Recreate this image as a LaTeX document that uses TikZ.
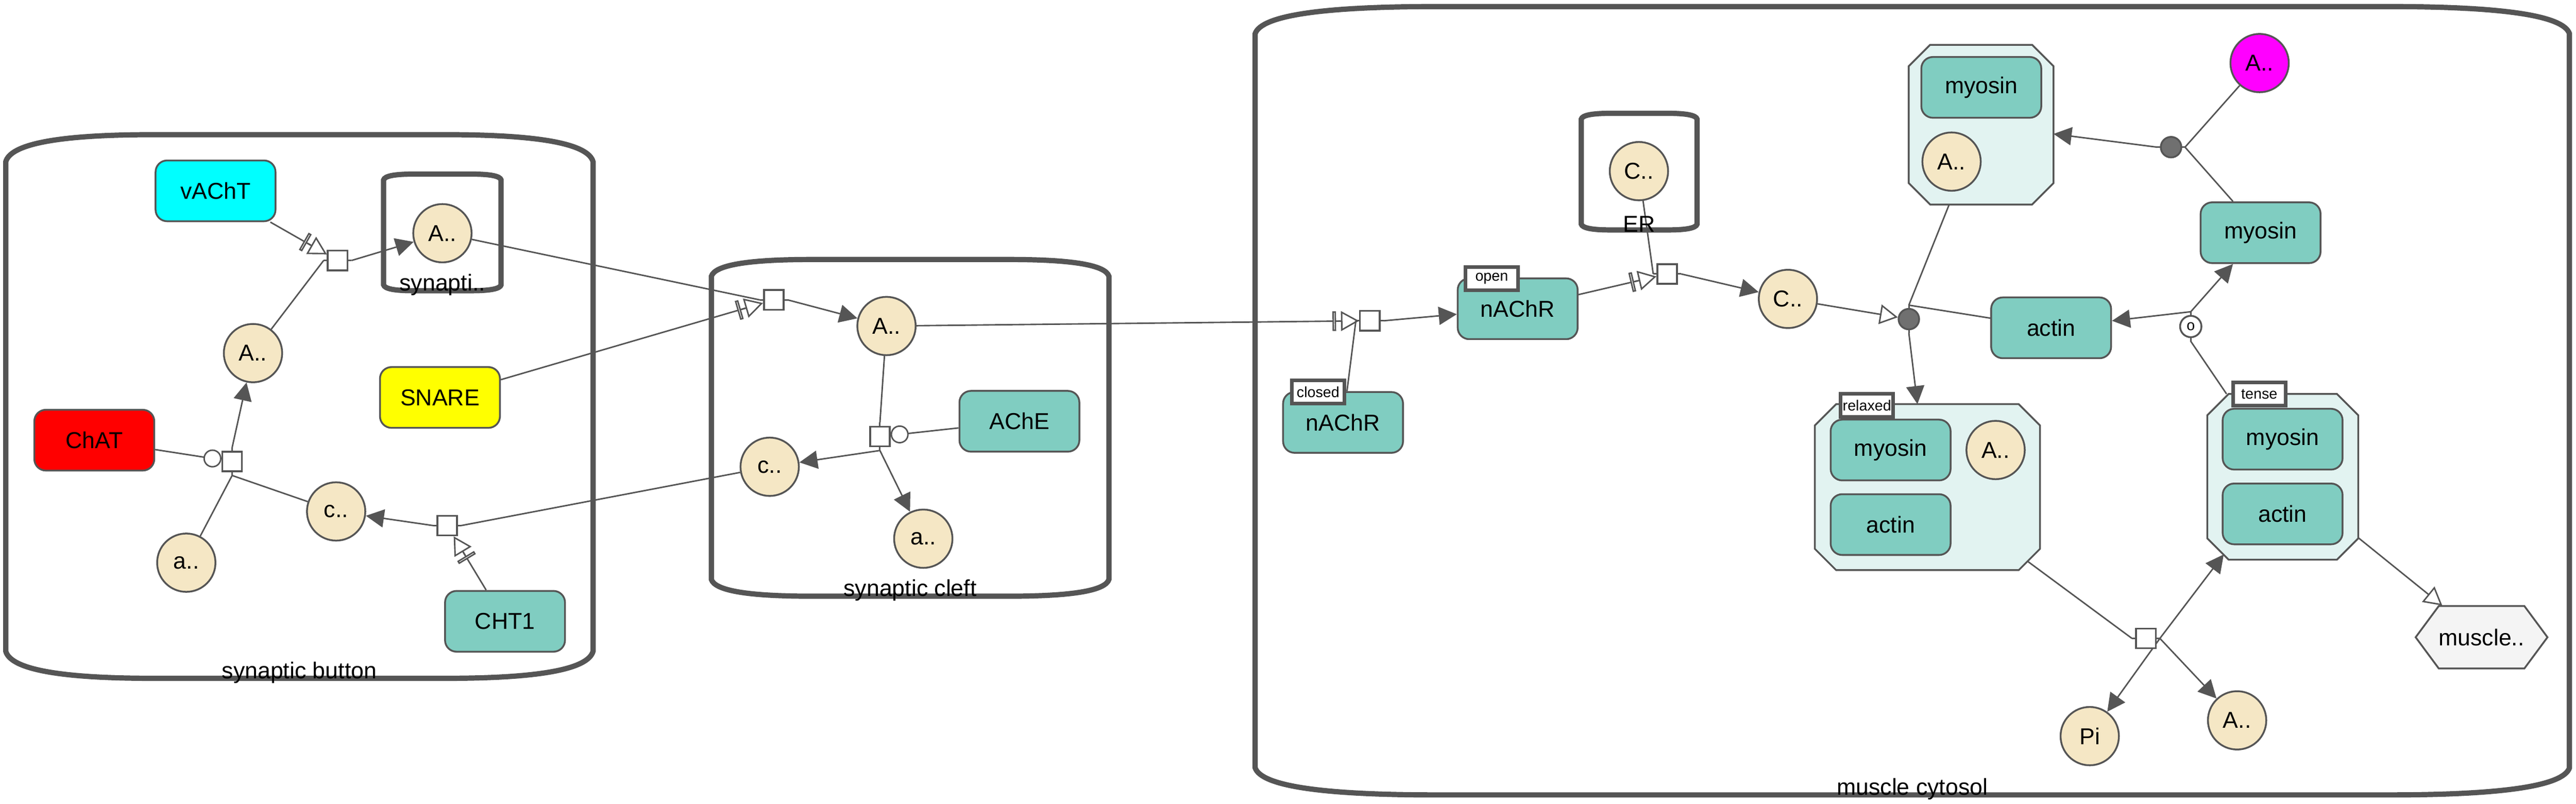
\documentclass[tikz,border=0pt]{standalone}
\usepackage{fontspec}
\setmainfont{Liberation Sans}
\usetikzlibrary{arrows.meta,shapes.symbols}

\definecolor{edgegray}{HTML}{555555}
\definecolor{chemfill}{HTML}{F5E7C5}
\definecolor{macrofill}{HTML}{80CDC1}
\definecolor{cplxfill}{HTML}{E2F3F1}
\definecolor{phenofill}{HTML}{F4F4F4}
\definecolor{assocfill}{HTML}{707070}
\definecolor{vachtfill}{HTML}{00FFFF}
\definecolor{chatfill}{HTML}{FF0000}
\definecolor{snarefill}{HTML}{FFFF00}
\definecolor{atpfill}{HTML}{FF00FF}

\pgfdeclarelayer{back}
\pgfdeclarelayer{wires}
\pgfsetlayers{back,wires,main}

\tikzset{
  macromol/.style={draw=edgegray,line width=1.1pt,rounded corners=7pt,minimum width=73pt,
    minimum height=37pt,inner sep=0pt,fill=macrofill},
  simplechem/.style={draw=edgegray,line width=1.1pt,circle,minimum size=35.5pt,inner sep=0pt,fill=chemfill},
  cplx/.style={rectangle,inner sep=0pt},
  cplxline/.style={fill=cplxfill,draw=edgegray,line width=1.1pt},
  procbox/.style={draw=edgegray,line width=1.1pt,rectangle,minimum size=12pt,inner sep=0pt,fill=white},
  assoc/.style={draw=edgegray,line width=1.1pt,circle,minimum size=12.5pt,inner sep=0pt,fill=assocfill},
  dissoc/.style={draw=edgegray,line width=1.1pt,circle,minimum size=13pt,inner sep=0pt,fill=white,
    font=\fontsize{9}{9}\selectfont},
  statebox/.style={draw=edgegray,line width=2.2pt,fill=white,minimum width=32pt,minimum height=14pt,
    inner sep=0.5pt,font=\fontsize{9}{9}\selectfont},
  pheno/.style={draw=edgegray,line width=1.1pt,signal,signal to=west and east,signal pointer angle=107,
    minimum width=75pt,minimum height=38pt,inner sep=0pt,fill=phenofill},
  compart/.style={draw=edgegray,line width=3.2pt},
  wire/.style={draw=edgegray,line width=0.9pt},
  consume/.style={wire},
  produce/.style={wire,-{Triangle[length=11pt,width=11pt]}},
  stimul/.style={wire,-{Triangle[open,fill=white,length=11pt,width=12pt]}},
  trigger/.style={wire,-{Rectangle[open,fill=white,length=2.2pt,width=12pt]
    Rectangle[length=3pt,width=0.9pt] Triangle[open,fill=white,length=11pt,width=12pt]}},
  catal/.style={wire,-{Circle[open,fill=white,length=11pt]}}
}

% process nodes with ports: -a left/top, -b right/bottom
\newcommand{\proch}[4][procbox]{%
  \node[#1] (#2) at (#3,#4) {};
  \coordinate (#2-a) at (#3-8.5,#4);
  \coordinate (#2-b) at (#3+8.5,#4);
  \begin{pgfonlayer}{wires}\draw[wire] (#2-a) -- (#2-b);\end{pgfonlayer}}
\newcommand{\procv}[4][procbox]{%
  \node[#1] (#2) at (#3,#4) {};
  \coordinate (#2-a) at (#3,#4-8.5);
  \coordinate (#2-b) at (#3,#4+8.5);
  \begin{pgfonlayer}{wires}\draw[wire] (#2-a) -- (#2-b);\end{pgfonlayer}}

% complex: name, x, y, width, height (corners cut by 13pt)
\newcommand{\cplxnode}[5]{%
  \node[cplx,minimum width=#4pt,minimum height=#5pt] (#1) at (#2,#3) {};
  \path[cplxline] ([xshift=13pt]#1.north west) -- ([xshift=-13pt]#1.north east)
    -- ([yshift=-13pt]#1.north east) -- ([yshift=13pt]#1.south east)
    -- ([xshift=-13pt]#1.south east) -- ([xshift=13pt]#1.south west)
    -- ([yshift=13pt]#1.south west) -- ([yshift=-13pt]#1.north west) -- cycle;}

% compartment: x1, y1, x2, y2, corner width, corner height
\newcommand{\barrelbox}[6]{%
  \draw[compart] (#1,#2+#6) -- (#1,#4-#6)
    .. controls (#1+0.0333*#5,#4-#6/3) and (#1+0.3667*#5,#4) .. (#1+#5,#4)
    -- (#3-#5,#4)
    .. controls (#3-0.3667*#5,#4) and (#3-0.0333*#5,#4-#6/3) .. (#3,#4-#6)
    -- (#3,#2+#6)
    .. controls (#3-0.0333*#5,#2+#6/3) and (#3-0.3667*#5,#2) .. (#3-#5,#2)
    -- (#1+#5,#2)
    .. controls (#1+0.3667*#5,#2) and (#1+0.0333*#5,#2+#6/3) .. cycle;}

\begin{document}
\begin{tikzpicture}[x=1pt,y=-1pt,font=\fontsize{14}{16}\selectfont]
  \useasboundingbox (0,0) rectangle (1568,489.5);

  \begin{pgfonlayer}{back}
    \fill[white] (0,0) rectangle (1568,489.5);
    \barrelbox{3.5}{82}{361}{413}{89.4}{16.5}
    \barrelbox{233.5}{106}{305}{177}{17.9}{3.55}
    \barrelbox{433}{158}{675}{363}{60.5}{10.25}
    \barrelbox{764}{4}{1564}{484}{110}{16.5}
    \barrelbox{962.5}{69}{1033}{140}{17.6}{3.55}
  \end{pgfonlayer}

  \node at (182.2,409.5) {synaptic button};
  \node at (269.3,173.5) {synapti..};
  \node at (554,359.5) {synaptic cleft};
  \node at (1164,480.5) {muscle cytosol};
  \node at (997.7,136.5) {ER};

  % synaptic button
  \node[macromol,fill=vachtfill]  (vAChT) at (131.2,116.2) {vAChT};
  \node[simplechem]               (Avs)   at (269.3,142)   {A..};
  \node[simplechem]               (Abt)   at (154,215)     {A..};
  \node[macromol,fill=chatfill]   (ChAT)  at (57.4,268)    {ChAT};
  \node[macromol,fill=snarefill]  (SNARE) at (267.8,242)   {SNARE};
  \node[simplechem]               (abt)   at (113.4,342.6) {a..};
  \node[simplechem]               (cbt)   at (204.6,311.4) {c..};
  \node[macromol]                 (CHT1)  at (307.4,378.3) {CHT1};
  \proch{p1}{205.5}{158.6}
  \procv{p2}{141.3}{281}
  \proch{p3}{272.2}{320}

  % synaptic cleft
  \node[simplechem] (Acl)  at (539.6,198.5) {A..};
  \node[simplechem] (ccl)  at (468.5,284.2) {c..};
  \node[simplechem] (acl)  at (562,328)     {a..};
  \node[macromol]   (AChE) at (620.5,256.5) {AChE};
  \proch{p4}{471}{182.6}
  \procv{p5}{535.6}{265.8}

  % muscle cytosol
  \node[macromol] (nAChRc) at (817.5,257.2) {nAChR};
  \node[macromol] (nAChRo) at (923.8,188)   {nAChR};
  \node[statebox] at (802.3,238.7) {closed};
  \node[statebox] at (908,169.7)   {open};
  \proch{p6}{833.8}{195.3}
  \node[simplechem] (Cer) at (997.6,104.2) {C..};
  \proch{p7}{1014.8}{166.8}
  \node[simplechem] (Ccy) at (1088.3,182) {C..};
  \procv[assoc]{as1}{1161.9}{194.3}
  \node[macromol] (actin) at (1248.5,199.6) {actin};

  \cplxnode{cx1}{1205.9}{75.9}{87.7}{96.8}
  \node[macromol]   (myoA) at (1206,53.2)   {myosin};
  \node[simplechem] (Acx1) at (1187.9,98.4) {A..};

  \node[simplechem,fill=atpfill] (Amg) at (1375.4,38.4) {A..};
  \proch[assoc]{as2}{1321.5}{89.6}
  \node[macromol] (myosin) at (1376,141.7) {myosin};

  \node[dissoc] (ds1) at (1333.5,198.8) {o};
  \coordinate (ds1-a) at (1333.5,189.8);
  \coordinate (ds1-b) at (1333.5,207.8);

  \cplxnode{cx2}{1173.2}{296.6}{136.7}{100.7}
  \node[macromol]   (myoB) at (1150.8,274)   {myosin};
  \node[simplechem] (Acx2) at (1214.7,274)   {A..};
  \node[macromol]   (actB) at (1150.8,319.4) {actin};
  \node[statebox] at (1136.4,246.8) {relaxed};

  \cplxnode{cx3}{1389.5}{290.3}{91.5}{100.5}
  \node[macromol] (myoC) at (1389.4,267.4) {myosin};
  \node[macromol] (actC) at (1389.4,312.9) {actin};
  \node[statebox] at (1375.2,240) {tense};

  \proch{p8}{1306.2}{388.7}
  \node[simplechem] (Pi)  at (1272,448.2)   {Pi};
  \node[simplechem] (Aad) at (1361.7,438.6) {A..};
  \node[pheno] (twitch) at (1510.5,388) {muscle..};

  \begin{pgfonlayer}{wires}
    \draw[wire] (ds1-a) -- (ds1-b);
    \path (Abt)    edge[consume] (p1-a)
          (p1-b)   edge[produce] (Avs)
          (vAChT)  edge[trigger] (p1)
          (abt)    edge[consume] (p2-b)
          (cbt)    edge[consume] (p2-b)
          (p2-a)   edge[produce] (Abt)
          (ChAT)   edge[catal]   (p2)
          (ccl)    edge[consume] (p3-b)
          (p3-a)   edge[produce] (cbt)
          (CHT1)   edge[trigger] (p3)
          (Avs)    edge[consume] (p4-a)
          (p4-b)   edge[produce] (Acl)
          (SNARE)  edge[trigger] (p4)
          (Acl)    edge[consume] (p5-a)
          (p5-b)   edge[produce] (ccl)
                   edge[produce] (acl)
          (AChE)   edge[catal]   (p5)
          (Acl)    edge[trigger] (p6)
          (nAChRc) edge[consume] (p6-a)
          (p6-b)   edge[produce] (nAChRo)
          (nAChRo) edge[trigger] (p7)
          (Cer)    edge[consume] (p7-a)
          (p7-b)   edge[produce] (Ccy)
          (Ccy)    edge[stimul]  (as1)
          (cx1)    edge[consume] (as1-a)
          (actin)  edge[consume] (as1-a)
          (as1-b)  edge[produce] (cx2)
          (Amg)    edge[consume] (as2-b)
          (myosin) edge[consume] (as2-b)
          (as2-a)  edge[produce] (cx1)
          (cx3)    edge[consume] (ds1-b)
          (ds1-a)  edge[produce] (actin)
                   edge[produce] (myosin)
          (cx2)    edge[consume,shorten <=-9pt] (p8-a)
          (p8-b)   edge[produce,shorten >=-4pt] (cx3)
                   edge[produce] (Pi)
                   edge[produce] (Aad)
          (cx3)    edge[stimul]  (twitch);
  \end{pgfonlayer}
\end{tikzpicture}
\end{document}
